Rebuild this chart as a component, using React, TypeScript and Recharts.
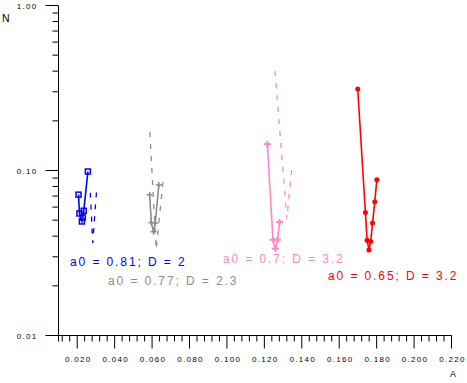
import { ScatterChart, Scatter, XAxis, YAxis } from "recharts"

// a0 = 0.81; D = 2
const blueA = [0.0207, 0.0212, 0.0225, 0.023, 0.0235, 0.0257]
const blueN = [0.0714, 0.0549, 0.0491, 0.0519, 0.057, 0.0986]
const blueDashA = [0.027, 0.0283, 0.0303]
const blueDashN = [0.0734, 0.0364, 0.0745]

// a0 = 0.77; D = 2.3
const grayA = [0.0587, 0.0596, 0.0608, 0.0617, 0.0636]
const grayN = [0.0714, 0.0484, 0.0425, 0.048, 0.0818]
const grayDashA = [0.0588, 0.0622, 0.066]
const grayDashN = [0.171, 0.0333, 0.0897]

// a0 = 0.7; D = 3.2
const pinkA = [0.1216, 0.1246, 0.1259, 0.127, 0.1282]
const pinkN = [0.1446, 0.038, 0.0336, 0.038, 0.0487]
const pinkDashA = [0.1257, 0.132, 0.1348]
const pinkDashN = [0.4, 0.051, 0.106]

// a0 = 0.65; D = 3.2
const redA = [0.1699, 0.174, 0.1749, 0.1759, 0.1768, 0.1778, 0.179, 0.1801]
const redN = [0.312, 0.0557, 0.0378, 0.033, 0.0371, 0.048, 0.0647, 0.0878]

const xMajor = [0.02, 0.04, 0.06, 0.08, 0.1, 0.12, 0.14, 0.16, 0.18, 0.2, 0.22]
const xLabels = ["0.020", "0.040", "0.060", "0.080", "0.100", "0.120", "0.140", "0.160", "0.180", "0.200", "0.220"]
const yMajor = [0.01, 0.1, 1]
const yLabels = ["0.01", "0.10", "1.00"]

const BLUE = "#0000ff"
const GRAY = "#8c8c8c"
const PINK = "#ff88c4"
const RED = "#ff0000"
const FONT = "'Liberation Sans', Arial, sans-serif"

const toPts = (a: number[], n: number[]) => a.map((v, i) => ({ x: v, y: n[i] }))

// minor ticks: every 0.004 on A, 2..9 per decade on N
const xTicks = [0.01]
for (let k = 12; k <= 220; k += 4) xTicks.push(k / 1000)
const yTicks: number[] = []
for (const d of [0.01, 0.1]) for (let m = 1; m <= 9; m++) yTicks.push(Math.round(m * d * 1000) / 1000)
yTicks.push(1)

const findIdx = (arr: number[], v: number) => arr.findIndex((t) => Math.abs(t - v) < 1e-9)

const XTick = (props: any) => {
  const { x, y, payload } = props
  const i = findIdx(xMajor, payload.value)
  return (
    <g>
      <line x1={x} x2={x} y1={y} y2={y + (i >= 0 ? 13 : 6)} stroke="#000" />
      {i >= 0 && (
        <text x={x + 1} y={y + 26} textAnchor="middle" fontSize={8} letterSpacing={1.3} fontFamily={FONT} fill="#000">
          {xLabels[i]}
        </text>
      )}
    </g>
  )
}

const YTick = (props: any) => {
  const { x, y, payload } = props
  const i = findIdx(yMajor, payload.value)
  return (
    <g>
      <line x1={x - (i >= 0 ? 13 : 6)} x2={x} y1={y} y2={y} stroke="#000" />
      {i >= 0 && (
        <text x={x - 21} y={y + 3} textAnchor="end" fontSize={8} letterSpacing={1.3} fontFamily={FONT} fill="#000">
          {yLabels[i]}
        </text>
      )}
    </g>
  )
}

const Square = (p: any) => <rect x={p.cx - 2.5} y={p.cy - 2.5} width={5} height={5} fill="none" stroke={BLUE} strokeWidth={1.5} />
const GrayMark = (p: any) => (
  <g stroke={GRAY} strokeWidth={1.5}>
    <line x1={p.cx - 3} x2={p.cx + 3} y1={p.cy} y2={p.cy} />
    <line x1={p.cx} x2={p.cx} y1={p.cy - 3} y2={p.cy + 3} />
  </g>
)
const PinkMark = (p: any) => (
  <g stroke={PINK} strokeWidth={2}>
    <line x1={p.cx - 3.5} x2={p.cx + 3.5} y1={p.cy} y2={p.cy} />
    <line x1={p.cx} x2={p.cx} y1={p.cy - 3} y2={p.cy + 3} />
  </g>
)
const RedMark = (p: any) => <circle cx={p.cx} cy={p.cy} r={2.5} fill={RED} />
const NoMark = () => <g />

const dash = (c: string) => ({ stroke: c, strokeWidth: 1.3, strokeDasharray: "5 7" })
const solid = (c: string) => ({ stroke: c, strokeWidth: 1.6 })

export default function App() {
  return (
    <div style={{ position: "absolute", left: 0, top: 0, width: 467, height: 383, background: "#fff" }}>
      <ScatterChart width={467} height={383} margin={{ top: 5.5, right: 15.5, bottom: 0, left: 0.5 }}>
        <XAxis
          type="number"
          dataKey="x"
          domain={[0.01, 0.22]}
          allowDataOverflow
          ticks={xTicks}
          interval={0}
          tickSize={0}
          tickMargin={0}
          tick={(p: any) => <XTick {...p} />}
          height={47.5}
          axisLine={{ stroke: "#000" }}
        />
        <YAxis
          type="number"
          dataKey="y"
          scale="log"
          domain={[0.01, 1]}
          allowDataOverflow
          ticks={yTicks}
          interval={0}
          tickSize={0}
          tickMargin={0}
          tick={(p: any) => <YTick {...p} />}
          width={58}
          axisLine={{ stroke: "#000" }}
        />
        <Scatter data={toPts(blueDashA, blueDashN)} line={dash(BLUE)} lineType="joint" shape={NoMark} isAnimationActive={false} />
        <Scatter data={toPts(blueA, blueN)} line={solid(BLUE)} lineType="joint" shape={Square} isAnimationActive={false} />
        <Scatter data={toPts(grayDashA, grayDashN)} line={dash(GRAY)} lineType="joint" shape={NoMark} isAnimationActive={false} />
        <Scatter data={toPts(grayA, grayN)} line={solid(GRAY)} lineType="joint" shape={GrayMark} isAnimationActive={false} />
        <Scatter data={toPts(pinkDashA, pinkDashN)} line={dash(PINK)} lineType="joint" shape={NoMark} isAnimationActive={false} />
        <Scatter data={toPts(pinkA, pinkN)} line={solid(PINK)} lineType="joint" shape={PinkMark} isAnimationActive={false} />
        <Scatter data={toPts(redA, redN)} line={solid(RED)} lineType="joint" shape={RedMark} isAnimationActive={false} />
      </ScatterChart>
      <svg width={467} height={383} style={{ position: "absolute", left: 0, top: 0, pointerEvents: "none" }} fontFamily={FONT}>
        <text x={2} y={22} fontSize={10.5} fill="#000">N</text>
        <text x={450} y={377} fontSize={9} fill="#000">A</text>
        <text x={70} y={266} fontSize={12} letterSpacing={1.9} fill={BLUE}>a0 = 0.81; D = 2</text>
        <text x={108} y={285} fontSize={12} letterSpacing={1.9} fill={GRAY}>a0 = 0.77; D = 2.3</text>
        <text x={223} y={263} fontSize={12} letterSpacing={1.9} fill={PINK}>a0 = 0.7; D = 3.2</text>
        <text x={328} y={280} fontSize={12} letterSpacing={1.9} fill={RED}>a0 = 0.65; D = 3.2</text>
      </svg>
    </div>
  )
}
